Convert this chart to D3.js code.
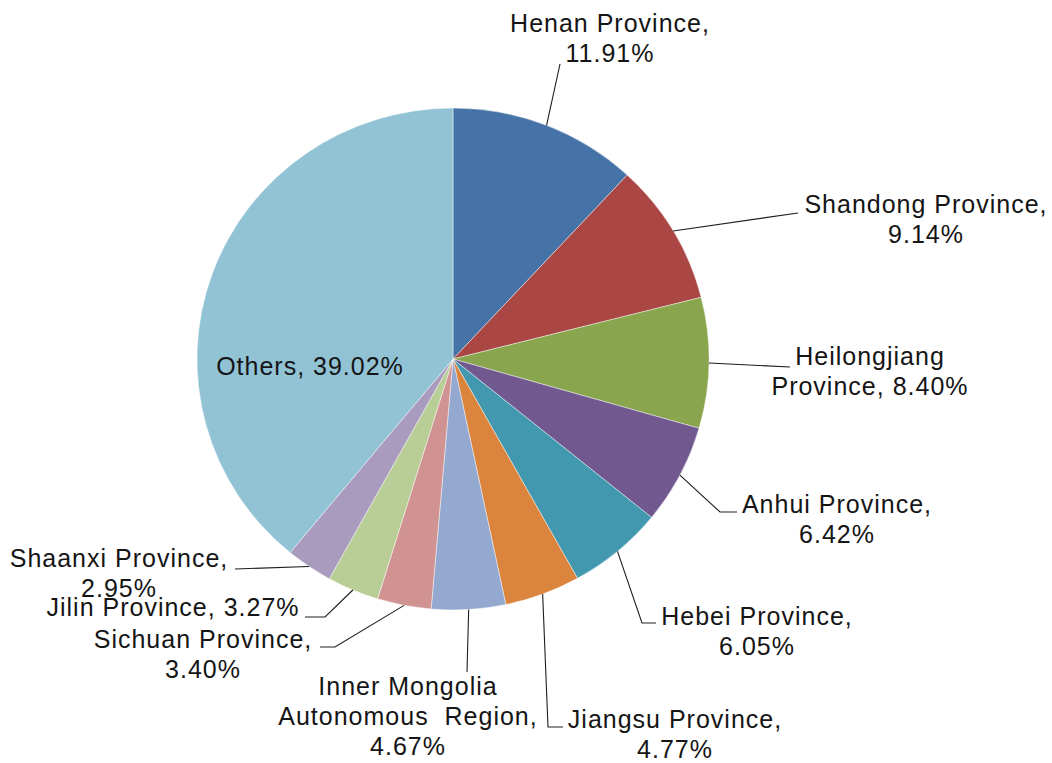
<!DOCTYPE html>
<html>
<head>
<meta charset="utf-8">
<script src="https://cdn.jsdelivr.net/npm/d3@7/dist/d3.min.js"></script>
<style>
  html, body { margin: 0; padding: 0; background: #ffffff; }
  svg { display: block; }
  text { font-family: "Liberation Sans", Arial, sans-serif; font-size: 25px; letter-spacing: 1px; fill: #151515; }
</style>
</head>
<body>
<svg id="chart" width="1052" height="763"></svg>
<script>
// Share of total by province (%)
const categories = [
  "Henan Province", "Shandong Province", "Heilongjiang Province", "Anhui Province",
  "Hebei Province", "Jiangsu Province", "Inner Mongolia Autonomous Region",
  "Sichuan Province", "Jilin Province", "Shaanxi Province", "Others"
];
const shares = [11.91, 9.14, 8.40, 6.42, 6.05, 4.77, 4.67, 3.40, 3.27, 2.95, 39.02];
const colors = [
  "#4572A7", "#AA4643", "#89A54E", "#71588F", "#4198AF", "#DB843D",
  "#93A9CF", "#D19392", "#B9CD96", "#A99BBD", "#92C3D5"
];

const data = categories.map((name, i) => ({ name, value: shares[i], color: colors[i] }));

const svg = d3.select("#chart");
const cx = 453, cy = 359, rx = 256, ry = 251;

const pie = d3.pie().value(d => d.value).sort(null);
const arcs = pie(data);
const arc = d3.arc().innerRadius(0).outerRadius(ry);

// pie, stretched slightly wider than tall
const g = svg.append("g").attr("transform", `translate(${cx},${cy}) scale(${rx / ry},1)`);
g.selectAll("path.slice")
  .data(arcs)
  .enter().append("path")
  .attr("class", "slice")
  .attr("d", arc)
  .attr("fill", d => d.data.color)
  .attr("stroke", "#ffffff")
  .attr("stroke-opacity", 0.55)
  .attr("stroke-width", 0.8);

// point on the rim at a slice's middle angle
function rimPoint(a) {
  const m = (a.startAngle + a.endAngle) / 2;
  return [cx + rx * Math.sin(m), cy - ry * Math.cos(m)];
}

// label placement: line centre x, first baseline, words per line, leader bend/end points
const layout = [
  { x: 610, y: 32, lines: [2, 1], leader: [[560, 64]] },
  { x: 926, y: 213, lines: [2, 1], leader: [[798, 213]] },
  { x: 870, y: 365, lines: [1, 2], leader: [[790, 367]] },
  { x: 837, y: 513, lines: [2, 1], leader: [[720, 512], [737, 512]] },
  { x: 757, y: 625, lines: [2, 1], leader: [[642, 623], [656, 623]] },
  { x: 675, y: 728, lines: [2, 1], leader: [[548, 727], [563, 727]] },
  { x: 408, y: 695, lines: [2, 2, 1], leader: [[467, 672]] },
  { x: 203, y: 648, lines: [2, 1], leader: [[335, 647], [320, 647]] },
  { x: 173, y: 616, lines: [3], leader: [[325, 617], [305, 617]] },
  { x: 119, y: 567, lines: [2, 1], leader: [[235, 569]] },
  { x: 310, y: 375, lines: [2], leader: null }
];

const lineGap = 30;
const line = d3.line();

arcs.forEach((a, i) => {
  const L = layout[i];
  const words = `${a.data.name}, ${a.data.value.toFixed(2)}%`.split(" ");
  const rows = [];
  let k = 0;
  L.lines.forEach(n => { rows.push(words.slice(k, k + n).join(" ")); k += n; });

  if (L.leader) {
    svg.append("path")
      .attr("d", line([rimPoint(a), ...L.leader]))
      .attr("fill", "none")
      .attr("stroke", "#1e1e1e")
      .attr("stroke-width", 1.1);
  }

  const t = svg.append("text").attr("text-anchor", "middle");
  rows.forEach((r, j) => {
    t.append("tspan")
      .attr("x", L.x)
      .attr("y", L.y + j * lineGap)
      .attr("xml:space", "preserve")
      .text(r.replace("Autonomous Region", "Autonomous  Region"));
  });
});
</script>
</body>
</html>
